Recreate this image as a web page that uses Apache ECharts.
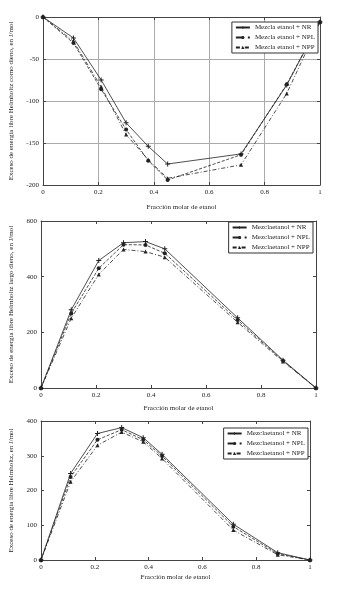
<!DOCTYPE html>
<html><head><meta charset="utf-8">
<script src="https://cdn.jsdelivr.net/npm/echarts@6/dist/echarts.min.js"></script>
<style>html,body{margin:0;padding:0;background:#fff}#c{width:337px;height:590px}</style>
</head><body><div id="c"></div>
<script>
// ---- data ----
const xFrac = [0, 0.11, 0.21, 0.30, 0.38, 0.45, 0.715, 0.88, 1];
// chart 1 (negative excess energy)
const c1NR  = [0, -25, -75, -126, -154, -175, -163, -81, -6];
const c1NPL = [0, -31, -86, -134, -171, -194, -164, -80, -6];
const c1NPP = [0, -29, -83, -140, -170, -192, -176, -91, -6];
// chart 2
const c2NR  = [0, 281, 458, 522, 526, 500, 252, 100, 0];
const c2NPL = [0, 268, 430, 515, 514, 484, 244, 98, 0];
const c2NPP = [0, 251, 408, 498, 490, 470, 236, 95, 0];
// chart 3
const c3NR  = [0, 249, 364, 381, 352, 304, 103, 21, 0];
const c3NPL = [0, 239, 346, 375, 346, 299, 96, 18, 0];
const c3NPP = [0, 225, 330, 368, 340, 292, 86, 15, 0];

const legend1 = ['Mezcla etanol + NR', 'Mezcla etanol + NPL', 'Mezcla etanol + NPP'];
const legend2 = ['Mezclaetanol + NR', 'Mezclaetanol + NPL', 'Mezclaetanol + NPP'];
const legend3 = ['Mezclaetanol + NR', 'Mezclaetanol + NPL', 'Mezclaetanol + NPP'];
const xName = 'Fracción molar de etanol';
const yNames = ['Exceso de energía libre Helmholtz como dieno, en J/mol',
                'Exceso de energía libre Helmholtz largo dieno, en J/mol',
                'Exceso de energía libre Helmholtz, en J/mol'];
const yRanges = [[-200, 0, 50], [0, 600, 200], [0, 400, 100]];

// ---- build ----
const FONT = 'Liberation Serif';
const ink = '#222';
const plusPath = 'path://M4,0 L6,0 L6,4 L10,4 L10,6 L6,6 L6,10 L4,10 L4,6 L0,6 L0,4 L4,4 Z';
const symbols = [plusPath, 'circle', 'triangle'];
const lineTypes = ['solid', 'dashed', [4, 2, 1, 2]];

const grids = [
  {left: 42, right: 17, top: 17, height: 168},
  {left: 41, right: 21, top: 221, height: 167},
  {left: 40, right: 27, top: 421, height: 139}
];
const nameGapX = [19, 17, 14];
const nameGapY = [28, 26, 26];
const showSplit = [true, false, false];

const xAxes = [], yAxes = [], series = [], legends = [];
const allSets = [[c1NR, c1NPL, c1NPP], [c2NR, c2NPL, c2NPP], [c3NR, c3NPL, c3NPP]];
const allLegends = [legend1, legend2, legend3];
const legendPos = [{right: 19, top: 22}, {right: 24, top: 222}, {right: 29, top: 428}];

for (let g = 0; g < 3; g++) {
  const [ymin, ymax, yint] = yRanges[g];
  xAxes.push({
    type: 'value', gridIndex: g, min: 0, max: 1, interval: 0.2,
    name: xName, nameLocation: 'middle', nameGap: nameGapX[g],
    nameTextStyle: {fontFamily: FONT, fontSize: 7, color: ink},
    axisLine: {show: true, onZero: false, lineStyle: {color: '#444', width: 1}},
    axisTick: {show: true, inside: true, length: 3, lineStyle: {color: '#444'}},
    axisLabel: {fontFamily: FONT, fontSize: 7, color: ink, margin: 4,
      formatter: v => (v === 0 || v === 1) ? String(v) : v.toFixed(1)},
    splitLine: {show: showSplit[g], lineStyle: {color: '#aaa', width: 1}}
  });
  xAxes.push({
    type: 'value', gridIndex: g, min: 0, max: 1, interval: 0.2, position: 'top',
    axisLine: {show: true, onZero: false, lineStyle: {color: '#444', width: 1}},
    axisTick: {show: true, inside: true, length: 3, lineStyle: {color: '#444'}},
    axisLabel: {show: false}, splitLine: {show: false}
  });
  yAxes.push({
    type: 'value', gridIndex: g, min: ymin, max: ymax, interval: yint,
    name: yNames[g], nameLocation: 'middle', nameGap: nameGapY[g],
    nameTextStyle: {fontFamily: FONT, fontSize: 7, color: ink},
    axisLine: {show: true, onZero: false, lineStyle: {color: '#444', width: 1}},
    axisTick: {show: true, inside: true, length: 3, lineStyle: {color: '#444'}},
    axisLabel: {fontFamily: FONT, fontSize: 7, color: ink, margin: 4},
    splitLine: {show: showSplit[g], lineStyle: {color: '#aaa', width: 1}}
  });
  yAxes.push({
    type: 'value', gridIndex: g, min: ymin, max: ymax, interval: yint, position: 'right',
    axisLine: {show: true, onZero: false, lineStyle: {color: '#444', width: 1}},
    axisTick: {show: true, inside: true, length: 3, lineStyle: {color: '#444'}},
    axisLabel: {show: false}, splitLine: {show: false}
  });
  const names = allLegends[g].map(n => n + '\u200b'.repeat(g));
  allSets[g].forEach((vals, s) => {
    series.push({
      type: 'line', name: names[s], xAxisIndex: g * 2, yAxisIndex: g * 2,
      data: xFrac.map((x, i) => [x, vals[i]]),
      symbol: symbols[s], symbolSize: s === 0 ? 5 : 4, showSymbol: true,
      itemStyle: {color: ink},
      lineStyle: {color: ink, width: 0.8, type: lineTypes[s]},
      animation: false
    });
  });
  legends.push({
    data: names, orient: 'vertical', ...legendPos[g],
    itemWidth: 14, itemHeight: 4, itemGap: 3, padding: [2, 3, 2, 3],
    backgroundColor: '#fff', borderColor: '#333', borderWidth: 1,
    textStyle: {fontFamily: FONT, fontSize: 7, color: ink},
    formatter: n => n.replace(/\u200b/g, '')
  });
}

const chart = echarts.init(document.getElementById('c'));
chart.setOption({
  animation: false, backgroundColor: '#fff',
  grid: grids, xAxis: xAxes, yAxis: yAxes, series: series, legend: legends
});
</script></body></html>
